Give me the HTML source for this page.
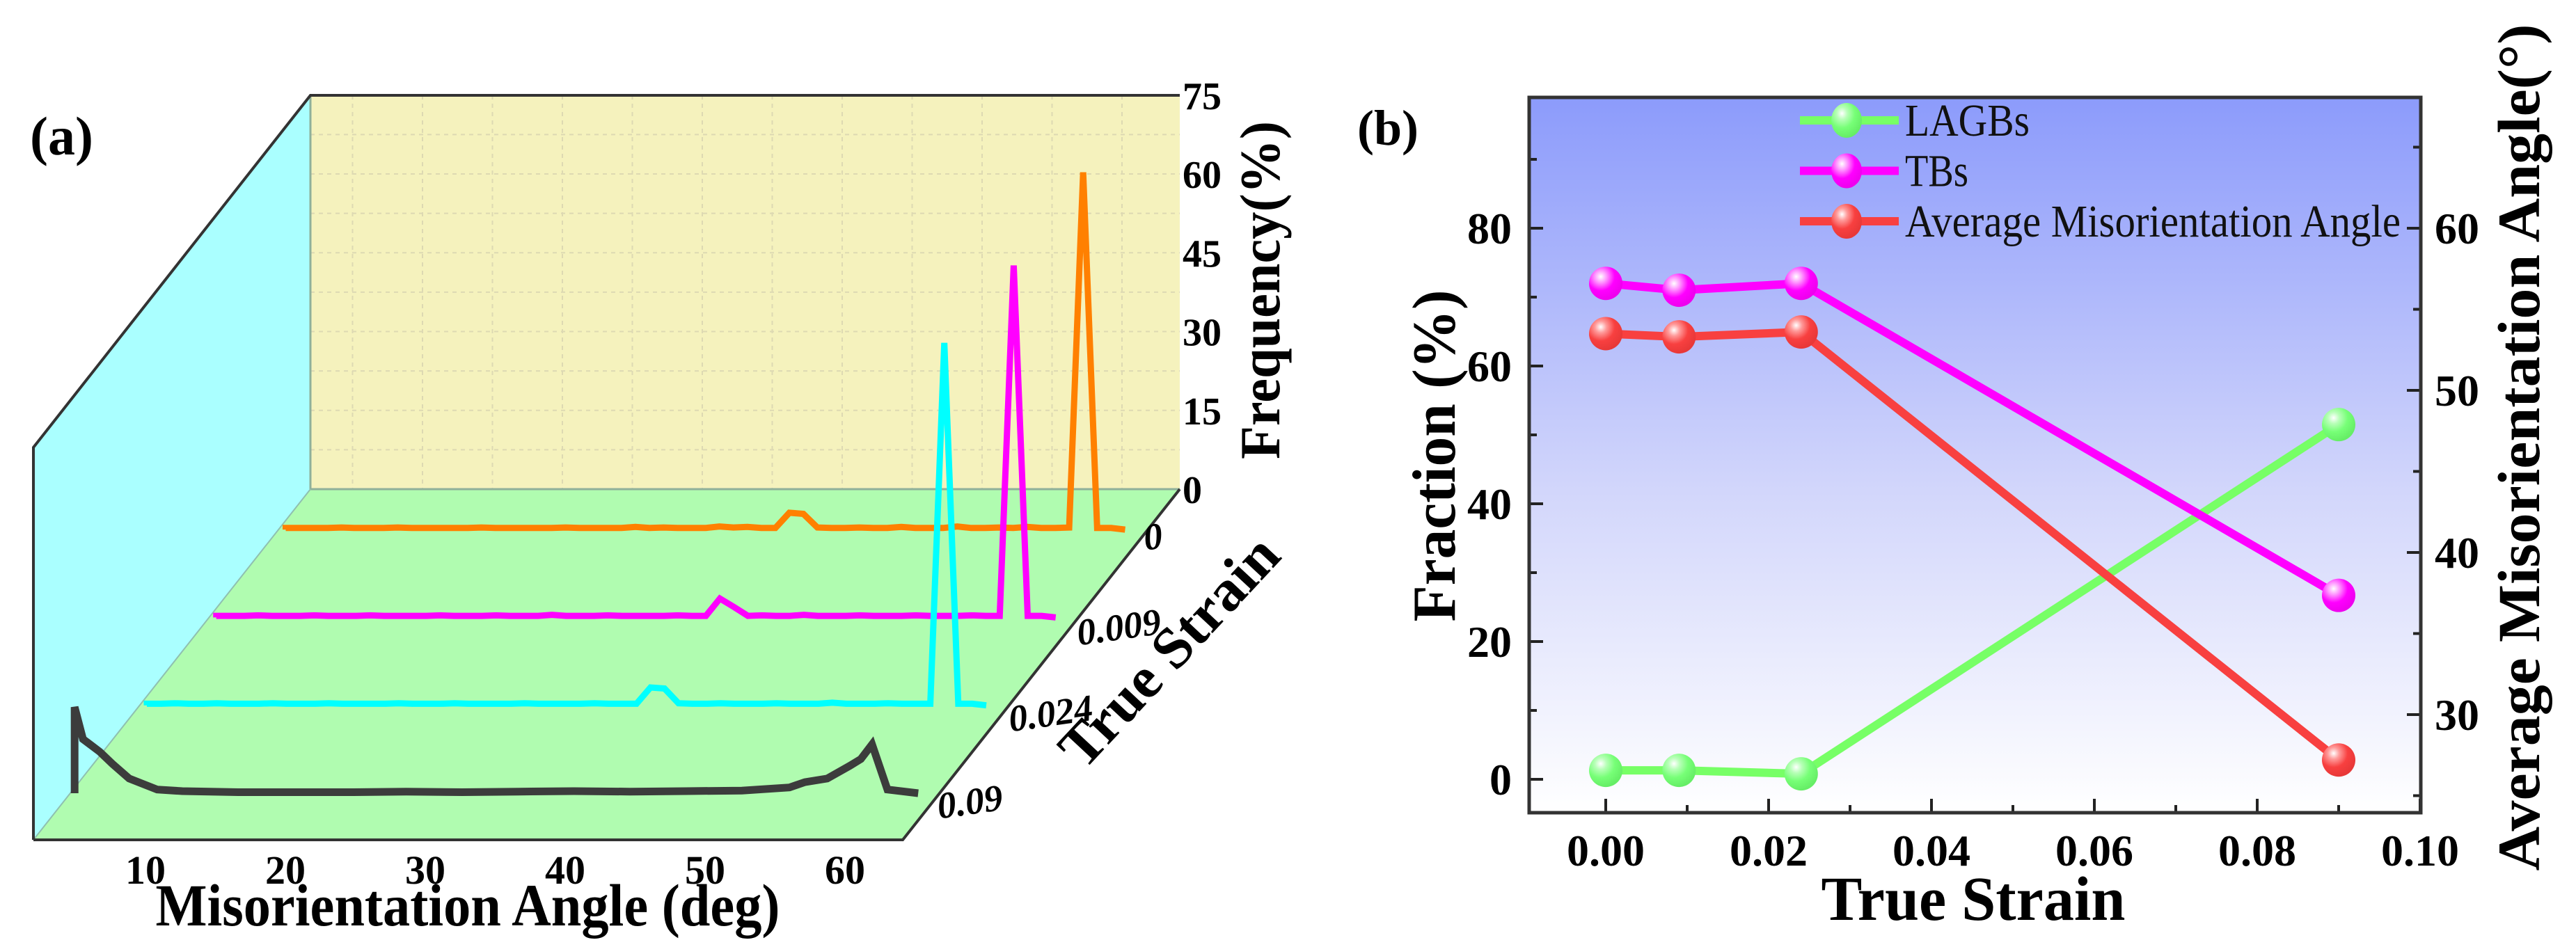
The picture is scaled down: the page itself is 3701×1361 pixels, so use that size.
<!DOCTYPE html>
<html><head><meta charset="utf-8"><style>
html,body{margin:0;padding:0;background:#fff;}
svg{display:block;}
text{font-family:"Liberation Serif",serif;}
.b{font-weight:bold;}
</style></head><body>
<svg id="fig" width="3701" height="1361" viewBox="0 0 3701 1361" xmlns="http://www.w3.org/2000/svg">
<defs>
<linearGradient id="bgGrad" x1="0" y1="0" x2="0" y2="1">
<stop offset="0" stop-color="#8c9bfb"/><stop offset="0.55" stop-color="#d2d6fb"/><stop offset="1" stop-color="#ffffff"/>
</linearGradient>
<radialGradient id="gG" cx="0.35" cy="0.3" r="0.7"><stop offset="0" stop-color="#ffffff"/><stop offset="0.25" stop-color="#b8ffb8"/><stop offset="0.6" stop-color="#77ff77"/><stop offset="1" stop-color="#66ee66"/></radialGradient>
<radialGradient id="gM" cx="0.35" cy="0.3" r="0.7"><stop offset="0" stop-color="#ffffff"/><stop offset="0.25" stop-color="#ff99ff"/><stop offset="0.6" stop-color="#ff00ff"/><stop offset="1" stop-color="#ee00ee"/></radialGradient>
<radialGradient id="gR" cx="0.35" cy="0.3" r="0.7"><stop offset="0" stop-color="#ffffff"/><stop offset="0.25" stop-color="#ff9a9a"/><stop offset="0.6" stop-color="#f84040"/><stop offset="1" stop-color="#e83838"/></radialGradient>
</defs>
<g id="panelA"></g>
<g id="panelB"></g>
</svg>
<script>
// ---------- Panel (a) data ----------
const strainCategories = ['0.09', '0.024', '0.009', '0'];
const angleTicks = [10, 20, 30, 40, 50, 60];
const freqTicks = [0, 15, 30, 45, 60, 75];
const angles = [2.5,3.5,4.5,5.5,6.5,7.5,8.5,9.5,10.5,11.5,12.5,13.5,14.5,15.5,16.5,17.5,18.5,19.5,20.5,21.5,22.5,23.5,24.5,25.5,26.5,27.5,28.5,29.5,30.5,31.5,32.5,33.5,34.5,35.5,36.5,37.5,38.5,39.5,40.5,41.5,42.5,43.5,44.5,45.5,46.5,47.5,48.5,49.5,50.5,51.5,52.5,53.5,54.5,55.5,56.5,57.5,58.5,59.5,60.5,61.5,62.5];
const freqCyan = [0.3,0.3,0.4,0.3,0.3,0.4,0.3,0.3,0.3,0.4, 0.3,0.3,0.3,0.4,0.3,0.3,0.3,0.3,0.4,0.3, 0.3,0.3,0.4,0.3,0.3,0.3,0.3,0.4,0.3,0.3, 0.3,0.3,0.4,0.3,0.3,0.3,3.4,3.2,0.4,0.3, 0.3,0.4,0.3,0.3,0.3,0.4,0.3,0.3,0.3,0.5, 0.3,0.3,0.3,0.4,0.3,0.3,0.3,69,0.3,0.3, 0];
const freqMagenta = [0.3,0.3,0.3,0.4,0.3,0.3,0.3,0.4,0.3,0.3, 0.3,0.4,0.3,0.3,0.3,0.3,0.4,0.3,0.3,0.3, 0.4,0.3,0.3,0.3,0.5,0.3,0.3,0.3,0.4,0.3, 0.3,0.3,0.3,0.4,0.3,0.3,3.6,2.0,0.3,0.4, 0.3,0.3,0.5,0.3,0.3,0.3,0.4,0.3,0.3,0.3, 0.4,0.3,0.3,0.3,0.4,0.3,0.3,67,0.3,0.3, 0];
const freqOrange = [0.3,0.3,0.3,0.3,0.4,0.3,0.3,0.3,0.4,0.3, 0.3,0.3,0.3,0.3,0.4,0.3,0.3,0.3,0.3,0.3, 0.4,0.3,0.3,0.3,0.3,0.5,0.3,0.4,0.3,0.3, 0.3,0.6,0.4,0.5,0.3,0.3,3.2,3.0,0.4,0.3, 0.3,0.4,0.3,0.3,0.5,0.3,0.3,0.3,0.6,0.3, 0.3,0.4,0.3,0.5,0.3,0.3,0.4,68,0.3,0.3, 0];
const anglesLagb = [2.3,2.3,2.9,3.4,4.1,5.0,6.2,8.2,10,14,18,22,26,30,34,38,42,46,50,53.4,54.5,56.1,57.7,58.5,59.3,60.4,62.6];
const freqLagb = [0,16.4,10.3,9.3,7.9,5.6,2.8,0.7,0.4,0.2,0.2,0.2,0.3,0.2,0.3,0.4,0.3,0.4,0.5,1.1,2.1,2.8,5.2,6.5,9.3,0.7,0];

// ---------- Panel (b) data ----------
const strainValues = [0, 0.009, 0.024, 0.09];
const lagbFraction = [1.3, 1.3, 0.8, 51.5];
const tbFraction = [72, 71, 72, 26.7];
const avgAngle = [53.5, 53.3, 53.6, 27.2];
const xTicksB = ['0.00','0.02','0.04','0.06','0.08','0.10'];
const yTicksLeft = [0, 20, 40, 60, 80];
const yTicksRight = [30, 40, 50, 60];

const NS = 'http://www.w3.org/2000/svg';
function mk(tag, attrs, parent, txt) {
  const e = document.createElementNS(NS, tag);
  for (const k in attrs) e.setAttribute(k, attrs[k]);
  if (txt !== undefined) e.textContent = txt;
  parent.appendChild(e);
  return e;
}

// ===== Panel A =====
const A = document.getElementById('panelA');
const FL = 48, FR = 1297, FY = 1207;
const SHX = 398, SHY = -504;
const BY = FY + SHY;
const BT = 137;
const pxPerPct = 7.55;
function xDeg(d) { return 209 + (d - 10) * 20.1; }
function depth(k) { return -67 - k * 126.3; }

let p;
p = mk('polygon', {points:`${FL},${FY} ${FL},${643} ${FL+SHX},${BT} ${FL+SHX},${BY}`, fill:'#aaffff'}, A);


p = mk('polygon', {points:`${FL+SHX},${BT} ${FR+SHX},${BT} ${FR+SHX},${BY} ${FL+SHX},${BY}`, fill:'#f5f2bd'}, A);


p = mk('polygon', {points:`${FL},${FY} ${FL+SHX},${BY} ${FR+SHX},${BY} ${FR},${FY}`, fill:'#b0fcb0'}, A);


const gridA = mk('g', {stroke:'#d8d4b0', 'stroke-width':2, 'stroke-dasharray':'6,6', opacity:0.8}, A);


for (let v = 7.5; v < 75; v += 7.5) {
  const y = BY - v * pxPerPct;
  mk('line', {x1:FL+SHX, x2:FR+SHX, y1:y, y2:y}, gridA);
}
for (let d = 5; d <= 60; d += 5) {
  const x = xDeg(d) + SHX;
  mk('line', {x1:x, x2:x, y1:BT, y2:BY}, gridA);
}
mk('line', {x1:FL+SHX, y1:BY, x2:FR+SHX, y2:BY, stroke:'#8fb09a', 'stroke-width':3}, A);
mk('line', {x1:FL+SHX, y1:BT, x2:FL+SHX, y2:BY, stroke:'#8fb09a', 'stroke-width':3}, A);
mk('line', {x1:FL, y1:FY, x2:FL+SHX, y2:BY, stroke:'#8fc0b0', 'stroke-width':2}, A);
p = mk('polyline', {points:`${FL},${FY} ${FL},643 ${FL+SHX},${BT} ${FR+SHX},${BT}`, fill:'none', stroke:'#333', 'stroke-width':4}, A);


mk('polyline', {points:`${FL},${FY} ${FR},${FY} ${FR+SHX},${BY}`, fill:'none', stroke:'#333', 'stroke-width':4}, A);

const seriesA = [
  {k:3, xs:angles, ys:freqOrange, color:'#ff8000', w:9, name:'series-strain-0'},
  {k:2, xs:angles, ys:freqMagenta, color:'#ff00ff', w:9, name:'series-strain-0.009'},
  {k:1, xs:angles, ys:freqCyan, color:'#00ffff', w:9, name:'series-strain-0.024'},
  {k:0, xs:anglesLagb, ys:freqLagb, color:'#3c3c3c', w:11, name:'series-strain-0.09'}
];
seriesA.forEach(s => {
  const dy = depth(s.k), dx = -dy * 0.79;
  const pts = s.xs.map((d, i) => `${(xDeg(d) + dx).toFixed(1)},${(FY + dy - s.ys[i] * pxPerPct).toFixed(1)}`);
  const first = `${(xDeg(s.xs[0]) + dx).toFixed(1)},${(FY + dy).toFixed(1)}`;
  const pl = mk('polyline', {points:[first].concat(pts).join(' '), fill:'none', stroke:s.color, 'stroke-width':s.w, 'stroke-linejoin':'miter'}, A);
  
  
});

angleTicks.forEach(t => {
  const tx = mk('text', {x:xDeg(t), y:1270, 'font-size':58, 'text-anchor':'middle', class:'b'}, A, String(t));
  
  
});
p = mk('text', {x:672, y:1330, 'font-size':86, 'text-anchor':'middle', class:'b', textLength:897, lengthAdjust:'spacingAndGlyphs'}, A, 'Misorientation Angle (deg)');


freqTicks.forEach(t => {
  const tx = mk('text', {x:1699, y:BY - t * pxPerPct + 20, 'font-size':56, class:'b'}, A, String(t));
  
  
});
p = mk('text', {x:0, y:0, 'font-size':82, 'text-anchor':'middle', class:'b', textLength:486, lengthAdjust:'spacingAndGlyphs', transform:'translate(1838,417) rotate(-90)'}, A, 'Frequency(%)');


const strainLabelPos = [[1396,1153],[1512,1026],[1610,902],[1659,772]];
strainCategories.forEach((c, i) => {
  const [x, y] = strainLabelPos[i];
  const tx = mk('text', {x:0, y:0, 'font-size':54, 'font-style':'italic', class:'b', 'text-anchor':'middle', transform:`translate(${x},${y+17}) rotate(-8)`}, A, c);
  
  
});
p = mk('text', {x:0, y:0, 'font-size':84, class:'b', 'text-anchor':'middle', textLength:420, lengthAdjust:'spacingAndGlyphs', transform:'translate(1700,955) rotate(-47)'}, A, 'True Strain');


p = mk('text', {x:43, y:222, 'font-size':78, class:'b'}, A, '(a)');



// ===== Panel B =====
const B = document.getElementById('panelB');
const L = 2197, R = 3478, T = 140, Bo = 1168;
function xs(v) { return 2307 + v * 11700; }
function yL(v) { return 1120 - v * 9.9; }
function yR(v) { return 328 + (60 - v) * 23.3; }

p = mk('rect', {x:L, y:T, width:R-L, height:Bo-T, fill:'url(#bgGrad)'}, B);



const ticks = mk('g', {stroke:'#222', 'stroke-width':4}, B);
for (let v = 0; v <= 90; v += 10) {
  const major = v % 20 === 0;
  mk('line', {x1:L, x2:L + (major ? 20 : 11), y1:yL(v), y2:yL(v)}, ticks);
}
for (let v = 25; v <= 65; v += 5) {
  const major = v % 10 === 0;
  mk('line', {x1:R, x2:R - (major ? 20 : 11), y1:yR(v), y2:yR(v)}, ticks);
}
for (let i = 0; i <= 10; i++) {
  const v = i / 100, major = i % 2 === 0;
  mk('line', {x1:xs(v), x2:xs(v), y1:Bo, y2:Bo - (major ? 20 : 11)}, ticks);
}
p = mk('rect', {x:L, y:T, width:R-L, height:Bo-T, fill:'none', stroke:'#333', 'stroke-width':5}, B);



yTicksLeft.forEach(t => {
  const tx = mk('text', {x:2172, y:yL(t) + 22, 'font-size':64, 'text-anchor':'end', class:'b'}, B, String(t));
  
  
});
yTicksRight.forEach(t => {
  const tx = mk('text', {x:3498, y:yR(t) + 22, 'font-size':64, class:'b'}, B, String(t));
  
  
});
xTicksB.forEach(t => {
  const tx = mk('text', {x:xs(parseFloat(t)), y:1244, 'font-size':64, 'text-anchor':'middle', class:'b'}, B, t);
  
  
});
p = mk('text', {x:2835, y:1322, 'font-size':90, 'text-anchor':'middle', class:'b', textLength:437, lengthAdjust:'spacingAndGlyphs'}, B, 'True Strain');


p = mk('text', {x:0, y:0, 'font-size':88, 'text-anchor':'middle', class:'b', textLength:477, lengthAdjust:'spacingAndGlyphs', transform:'translate(2090,655) rotate(-90)'}, B, 'Fraction (%)');


p = mk('text', {x:0, y:0, 'font-size':86, 'text-anchor':'middle', class:'b', textLength:1217, lengthAdjust:'spacingAndGlyphs', transform:'translate(3648,643) rotate(-90)'}, B, 'Average Misorientation Angle(°)');


p = mk('text', {x:1950, y:208, 'font-size':72, class:'b'}, B, '(b)');



const seriesB = [
  {vals:lagbFraction, y:yL, color:'#77ff66', grad:'url(#gG)', name:'lagbs'},
  {vals:avgAngle, y:yR, color:'#f84040', grad:'url(#gR)', name:'average-angle'},
  {vals:tbFraction, y:yL, color:'#ff00ff', grad:'url(#gM)', name:'tbs'}
];
seriesB.forEach(s => {
  const g = mk('g', {}, B);
  
  
  const pts = strainValues.map((v, i) => `${xs(v)},${s.y(s.vals[i])}`).join(' ');
  mk('polyline', {points:pts, fill:'none', stroke:s.color, 'stroke-width':12}, g);
  strainValues.forEach((v, i) => {
    const c = mk('circle', {cx:xs(v), cy:s.y(s.vals[i]), r:24, fill:s.grad}, g);
    
    
  });
});

const legendItems = ['LAGBs', 'TBs', 'Average Misorientation Angle'];
const legendColors = ['#77ff66', '#ff00ff', '#f84040'];
const legendGrads = ['url(#gG)', 'url(#gM)', 'url(#gR)'];
const legendWidths = [179, 91, 712];
const legend = mk('g', {}, B);


legendItems.forEach((t, i) => {
  const y = 173 + i * 72.5;
  const g = mk('g', {}, legend);
  
  
  mk('line', {x1:2586, x2:2728, y1:y, y2:y, stroke:legendColors[i], 'stroke-width':12}, g);
  mk('ellipse', {cx:2653, cy:y, rx:22, ry:25, fill:legendGrads[i]}, g);
  mk('text', {x:2737, y:y + 22, 'font-size':66, textLength:legendWidths[i], lengthAdjust:'spacingAndGlyphs', fill:'#111'}, g, t);
});
</script>
</body></html>
